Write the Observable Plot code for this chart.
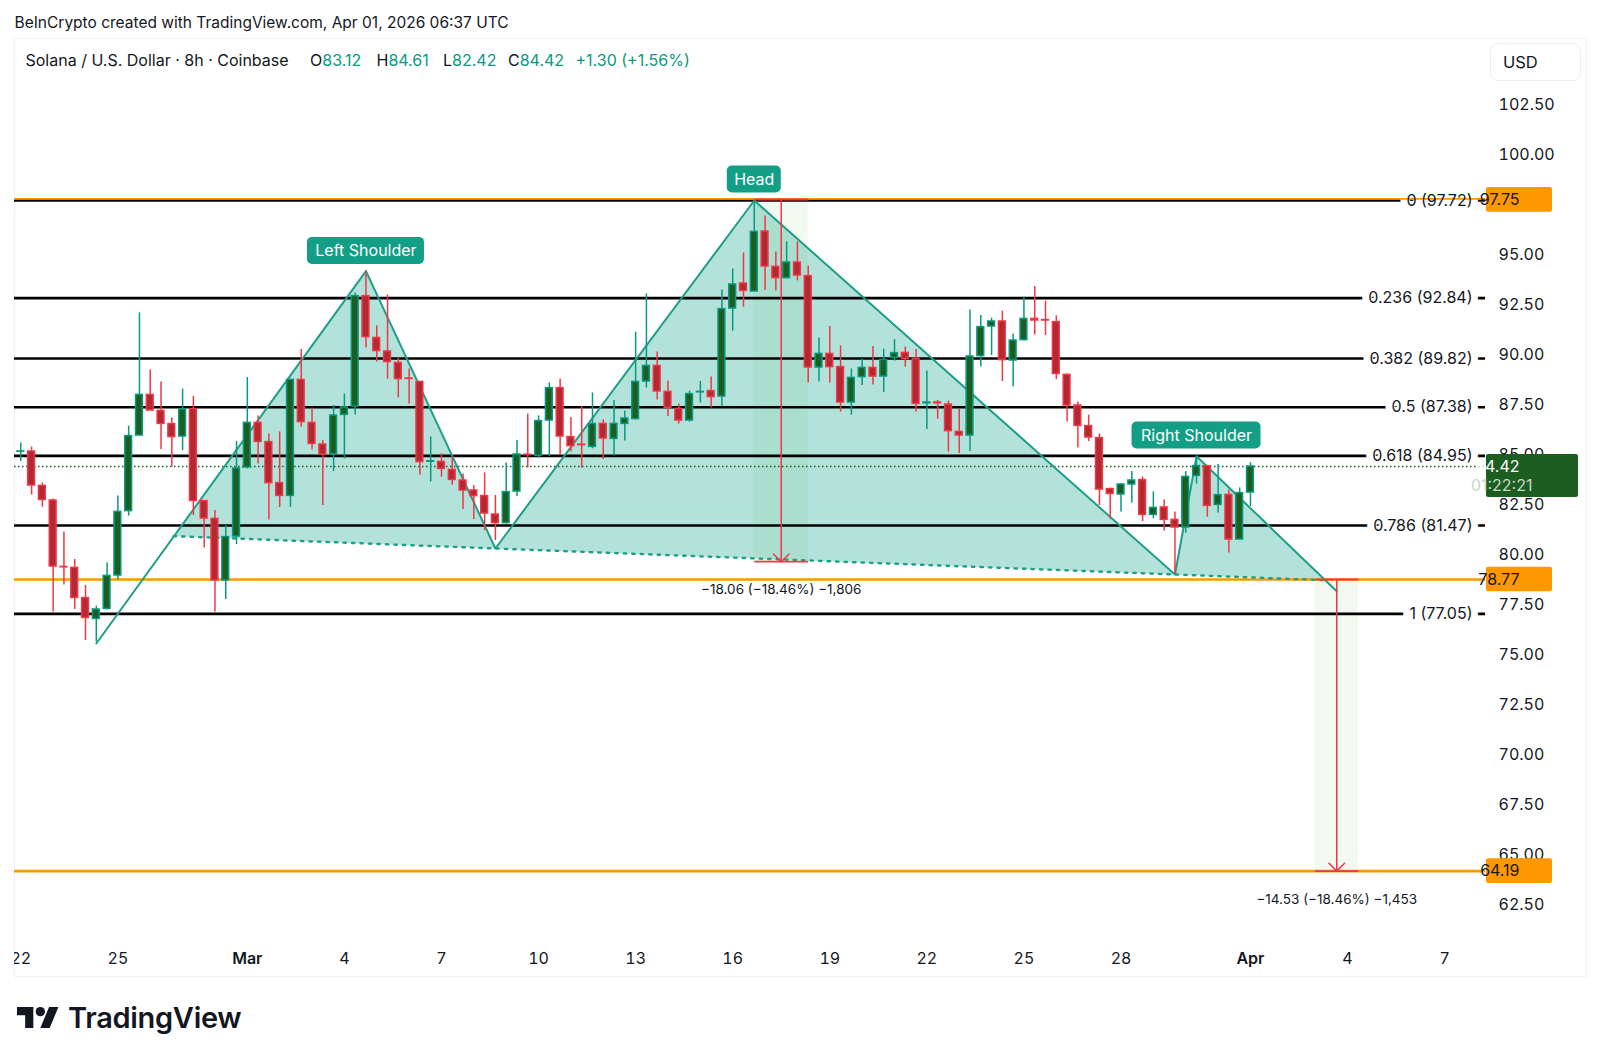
<!DOCTYPE html>
<html><head><meta charset="utf-8">
<script src="https://cdn.jsdelivr.net/npm/d3@7"></script>
<script src="https://cdn.jsdelivr.net/npm/@observablehq/plot@0.6"></script>
<style>
html,body{margin:0;padding:0;background:#fff;}
body{position:relative;width:1600px;height:1061px;overflow:hidden;font-family:Inter,sans-serif;color:#131722;}
.abs{position:absolute;white-space:nowrap;line-height:1;}
#chart{position:absolute;left:0;top:0;}
#frame{position:absolute;left:14px;top:38px;width:1571px;height:937px;border:1px solid #f0f3fa;}
#mask{position:absolute;left:0;top:38px;width:14px;height:939px;background:#fff;}
.g{color:#089981;}
</style></head><body>
<div id="frame"></div>
<div id="chart"></div>
<div id="mask"></div>
<div class="abs" id="credit" style="left:14.5px;top:15px;font-size:15.5px;">BeInCrypto created with TradingView.com, Apr 01, 2026 06:37 UTC</div>
<div class="abs" style="left:25.5px;top:52px;font-size:16px;">Solana / U.S. Dollar · 8h · Coinbase</div>
<div class="abs" style="left:310px;top:52px;font-size:16px;">O<span class="g">83.12</span></div>
<div class="abs" style="left:376.5px;top:52px;font-size:16px;">H<span class="g">84.61</span></div>
<div class="abs" style="left:443px;top:52px;font-size:16px;">L<span class="g">82.42</span></div>
<div class="abs" style="left:508px;top:52px;font-size:16px;">C<span class="g">84.42</span></div>
<div class="abs g" style="left:575.5px;top:52px;font-size:16px;">+1.30 (+1.56%)</div>
<div class="abs" style="left:1490px;top:43px;width:89px;height:36px;border:1px solid #eceef3;border-radius:8px;"></div>
<div class="abs" style="left:1503px;top:54px;font-size:16.5px;">USD</div>
<svg class="abs" style="left:17px;top:1007px" width="42" height="21" viewBox="0 4 36 18"><path fill="#131722" d="M14 22H7V11H0V4h14v18zM28 22h-8l7.5-18h8L28 22z"/><circle fill="#131722" cx="20" cy="8" r="4"/></svg>
<div class="abs" style="left:68px;top:1003px;font-size:29px;font-weight:600;letter-spacing:-.3px;">TradingView</div>
<script>
// 8h candles, one per bar, bar 0 = 22 Feb 00:00 UTC, bar 114 = 1 Apr 00:00 UTC
const opens = [85.16,85.17,83.45,82.72,79.40,79.35,77.84,76.80,77.30,78.97,82.19,85.97,88.00,87.20,86.54,85.92,87.29,82.69,81.80,78.72,80.92,84.37,86.60,85.64,83.59,82.95,88.75,86.60,85.52,85.04,87.00,87.42,92.94,90.85,90.17,89.60,88.82,88.65,84.66,84.65,84.25,83.72,83.22,82.94,82.02,81.59,83.17,85.01,84.95,86.72,88.34,85.89,85.51,85.40,86.55,85.80,86.55,86.79,88.67,89.45,88.15,87.30,86.72,88.13,88.19,87.92,92.32,93.57,93.17,96.17,94.40,93.84,94.62,93.94,89.37,90.05,89.39,87.62,88.89,89.35,88.92,89.84,90.10,89.80,87.58,87.62,87.52,86.15,85.97,89.94,91.42,91.67,89.72,90.74,91.80,91.74,91.64,89.00,87.47,86.44,85.84,83.29,83.02,83.52,83.74,82.00,82.37,81.75,81.37,83.95,84.44,82.50,83.00,80.77,83.12];
const highs = [85.59,85.39,83.60,82.80,81.14,79.77,78.47,77.44,79.60,82.94,86.44,92.10,89.25,88.65,86.85,88.29,87.92,82.70,82.22,81.47,85.67,88.87,86.94,86.05,86.15,88.75,90.27,87.34,85.72,87.47,88.05,93.10,94.19,91.44,92.99,89.84,89.30,88.65,85.90,85.05,84.89,84.05,83.47,84.10,82.97,84.60,85.72,87.05,86.95,88.60,88.80,86.87,87.42,88.10,86.75,87.72,87.19,91.14,93.05,90.14,88.70,87.55,88.19,88.67,88.89,93.24,94.30,95.10,97.72,96.95,95.14,95.65,95.65,94.45,90.85,91.42,90.45,89.30,89.80,90.42,90.29,90.77,90.39,90.27,89.20,87.72,87.69,87.27,92.25,91.97,91.84,92.19,91.05,92.89,93.42,92.69,91.95,89.05,87.64,86.99,86.05,83.35,83.55,84.17,83.89,83.15,82.75,82.14,84.17,84.92,84.47,84.52,83.25,83.35,84.61];
const lows = [84.67,83.00,82.39,77.14,78.50,77.27,75.72,75.65,77.25,78.75,81.94,85.97,87.22,85.27,84.39,85.22,81.97,80.34,77.14,77.77,80.52,84.30,84.55,81.74,82.37,82.37,86.39,85.25,82.47,84.17,84.80,87.00,90.34,89.64,88.79,87.85,87.54,83.99,83.64,83.89,83.49,82.27,81.77,81.22,80.72,81.55,82.92,84.35,84.85,84.92,84.97,85.14,84.35,85.30,84.77,84.95,85.69,86.75,88.34,87.74,86.92,86.55,86.64,87.59,87.35,87.42,91.19,92.39,93.17,93.22,93.19,93.80,93.70,88.59,88.64,88.60,87.14,86.99,88.47,88.49,88.12,89.69,89.39,87.14,86.27,86.79,85.14,85.07,85.17,89.39,89.97,88.67,88.39,90.69,91.00,90.97,88.77,86.64,85.35,85.67,82.47,81.80,82.15,82.59,81.67,81.80,81.19,79.05,81.09,83.54,81.89,82.09,80.09,80.77,82.42];
const closes = [85.17,83.47,82.75,79.42,79.38,77.85,76.85,77.27,78.95,82.15,85.94,88.00,87.22,86.55,85.89,87.27,82.70,81.82,78.72,80.89,84.32,86.60,85.65,83.59,82.95,88.75,86.64,85.55,85.02,86.97,87.37,92.94,90.89,90.19,89.64,88.79,88.80,84.64,84.68,84.30,83.75,83.22,82.94,82.07,81.59,83.14,85.02,84.99,86.69,88.34,85.92,85.44,85.49,86.54,85.82,86.55,86.82,88.65,89.45,88.17,87.35,86.72,88.04,88.15,87.89,92.29,93.52,93.20,96.15,94.42,93.84,94.62,93.97,89.37,90.05,89.39,87.62,88.85,89.35,88.92,89.75,90.09,89.80,87.55,87.62,87.58,86.19,85.97,89.92,91.39,91.67,89.74,90.72,91.80,91.72,91.72,89.05,87.47,86.45,85.87,83.27,83.05,83.52,83.72,82.00,82.35,81.75,81.37,83.90,84.44,82.45,82.99,80.77,83.09,84.42];

const fibLevels = [97.72,92.84,89.82,87.38,84.95,81.47,77.05];
const fibLabels = ["0 (97.72)","0.236 (92.84)","0.382 (89.82)","0.5 (87.38)","0.618 (84.95)","0.786 (81.47)","1 (77.05)"];
const orangeLevels = [78.77,64.19];
const topOrangeLevel = [97.75];
const lastPrice = 84.42;
const countdown = "01:22:21";

// head and shoulders pivots: start, left shoulder, neck 1, head, neck 2, right shoulder, end
const zigBars   = [7,32,44,68,107,109,122];
const zigPrices = [75.57,94.19,80.32,97.72,79.02,84.93,78.18];
// triangles of the pattern
const triTags   = ["L","L","L","H","H","H","R","R","R"];
const triBars   = [14.16,32,44,44,68,107,107,109,121];
const triPrices = [80.94,94.19,80.32,80.32,97.72,79.02,79.02,84.93,78.73];
const neckBars   = [14.16,44,107,121];
const neckPrices = [80.94,80.32,79.02,78.73];

// price-range measures
const rangeFromBar = [68,120];
const rangeToBar   = [73,124];
const rangeArrowBar= [70.5,122];
const rangeStart   = [97.72,78.72];
const rangeEnd     = [79.66,64.19];
const rangeLabels  = ["−18.06 (−18.46%) −1,806","−14.53 (−18.46%) −1,453"];
const rangeLabelPrice = [78.27,62.77];

const yTicks = [62.5,65,67.5,70,72.5,75,77.5,80,82.5,85,87.5,90,92.5,95,97.5,100,102.5];
const dayTickBars   = [0,9,30,39,48,57,66,75,84,93,102,123,132];
const dayTickLabels = ["22","25","4","7","10","13","16","19","22","25","28","4","7"];
const monthTickBars   = [21,114];
const monthTickLabels = ["Mar","Apr"];

const bars = opens.map((o,i)=>({bar:i,o,h:highs[i],l:lows[i],c:closes[i]}));
const up = bars.filter(d=>d.c>=d.o), down = bars.filter(d=>d.c<d.o);
const fib = fibLevels.map((y,i)=>({y,t:fibLabels[i]}));
const zig = zigBars.map((x,i)=>({x,y:zigPrices[i]}));
const tri = triBars.map((x,i)=>({x,y:triPrices[i],z:triTags[i]}));
const neck = neckBars.map((x,i)=>({x,y:neckPrices[i]}));
const ranges = rangeFromBar.map((a,i)=>({a,b:rangeToBar[i],m:rangeArrowBar[i],s:rangeStart[i],e:rangeEnd[i],t:rangeLabels[i],ty:rangeLabelPrice[i]}));
const XMAX = 135.79, XMIN = -0.584;

const GREEN="#089981", RED="#f23645", TEAL="#1f9e89", TAG="#139f85", ORANGE="#ff9800", DARK="#1b5e20", INK="#131722";
const FS=16;

function tag(bar,price,text,hw){
  return [
    Plot.rect([{bar,price}],{x1:"bar",x2:"bar",y1:"price",y2:"price",insetLeft:-hw,insetRight:-hw,insetTop:-13.5,insetBottom:-13.5,fill:TAG,rx:5}),
    Plot.text([{bar,price,text}],{x:"bar",y:"price",text:"text",fill:"#fff",fontSize:FS})
  ];
}
function priceBox(price,text){
  return [
    Plot.rect([price],{x1:XMAX,x2:XMAX,y1:d=>d,y2:d=>d,insetLeft:1,insetRight:-67,insetTop:-12.3,insetBottom:-12.3,fill:ORANGE,rx:2}),
    Plot.text([price],{y:d=>d,text:()=>text,frameAnchor:"right",dx:34,fill:INK,fontSize:FS})
  ];
}

const chart = Plot.plot({
  width:1600,height:1061,
  marginLeft:14,marginRight:115,marginTop:38,marginBottom:85,
  x:{type:"linear",domain:[XMIN,XMAX]},
  y:{domain:[58.92,105.82]},
  style:{fontFamily:"Inter, sans-serif",fontSize:"16px",background:"transparent",overflow:"visible",color:INK},
  marks:[
    Plot.line(tri,{x:"x",y:"y",z:"z",fill:"#22ab94",fillOpacity:.35,stroke:"none"}),
    Plot.rect(ranges,{x1:"a",x2:"b",y1:"s",y2:"e",fill:"#4caf50",fillOpacity:.08}),
    Plot.ruleY(fib,{y:"y",stroke:"#000",strokeWidth:2.6}),
    Plot.text(fib,{y:"y",text:"t",frameAnchor:"right",dx:-13,textAnchor:"end",fontSize:FS,fill:"#fff",stroke:"#fff",strokeWidth:14,strokeLinejoin:"miter"}),
    Plot.ruleY(topOrangeLevel,{y:d=>d,stroke:ORANGE,strokeWidth:1.8,dy:-1}),
    Plot.ruleY(orangeLevels,{y:d=>d,stroke:ORANGE,strokeWidth:2.6}),
    Plot.ruleY([lastPrice],{y:d=>d,stroke:DARK,strokeWidth:1.5,strokeDasharray:"1.5 2.5"}),
    Plot.line(neck,{x:"x",y:"y",stroke:"#1aa08a",strokeWidth:2.4,strokeDasharray:"2.5 6"}),
    Plot.line(zig,{x:"x",y:"y",stroke:TEAL,strokeWidth:2}),
    Plot.ruleX(down,{x:"bar",y1:"l",y2:"h",stroke:RED,strokeWidth:1.5}),
    Plot.ruleX(up,{x:"bar",y1:"l",y2:"h",stroke:GREEN,strokeWidth:1.5}),
    Plot.rect(down,{x1:"bar",x2:"bar",y1:"o",y2:"c",insetLeft:-3.4,insetRight:-3.4,fill:"#b22833",stroke:RED,strokeWidth:1.5}),
    Plot.rect(up,{x1:"bar",x2:"bar",y1:"o",y2:"c",insetLeft:-3.4,insetRight:-3.4,fill:DARK,stroke:GREEN,strokeWidth:1.5}),
    Plot.link(ranges,{x1:"a",x2:"b",y1:"s",y2:"s",stroke:RED,strokeWidth:1.8,dy:-1}),
    Plot.link(ranges,{x1:"a",x2:"b",y1:"e",y2:"e",stroke:RED,strokeWidth:1.8}),
    Plot.arrow(ranges,{x1:"m",x2:"m",y1:"s",y2:"e",stroke:RED,strokeWidth:1.5,headLength:11,headAngle:90}),
    Plot.text(ranges,{x:"m",y:"ty",text:"t",fontSize:13.5,fill:INK}),
    ...tag(32,95.2,"Left Shoulder",58.5),
    ...tag(68,98.77,"Head",27),
    ...tag(109,85.97,"Right Shoulder",64.5),
    Plot.text(fib,{y:"y",text:"t",frameAnchor:"right",dx:-13,textAnchor:"end",fontSize:FS,fill:INK}),
    Plot.axisY(yTicks,{anchor:"right",tickSize:0,tickPadding:13,tickFormat:d3.format(".2f"),fontSize:FS,label:null,fill:INK}),
    Plot.axisX(dayTickBars,{anchor:"bottom",tickSize:0,tickPadding:-18,lineAnchor:"middle",tickFormat:d=>dayTickLabels[dayTickBars.indexOf(d)],fontSize:FS,label:null,fill:INK}),
    Plot.axisX(monthTickBars,{anchor:"bottom",tickSize:0,tickPadding:-18,lineAnchor:"middle",tickFormat:d=>monthTickLabels[monthTickBars.indexOf(d)],fontSize:FS,fontWeight:600,label:null,fill:INK}),
    ...priceBox(topOrangeLevel[0],"97.75"),
    ...priceBox(orangeLevels[0],"78.77"),
    ...priceBox(orangeLevels[1],"64.19"),
    Plot.rect([lastPrice],{x1:XMAX,x2:XMAX,y1:d=>d,y2:d=>d,insetLeft:1,insetRight:-93,insetTop:-12,insetBottom:-31,fill:DARK,rx:2}),
    Plot.text([lastPrice],{y:d=>d,text:()=>lastPrice.toFixed(2),frameAnchor:"right",dx:34,fill:"#fff",fontSize:FS}),
    Plot.text([lastPrice],{y:d=>d,text:()=>countdown,frameAnchor:"right",dx:47,dy:19,fill:"#c6d6c7",fontSize:FS})
  ]
});
document.getElementById("chart").appendChild(chart);
</script>
</body></html>
